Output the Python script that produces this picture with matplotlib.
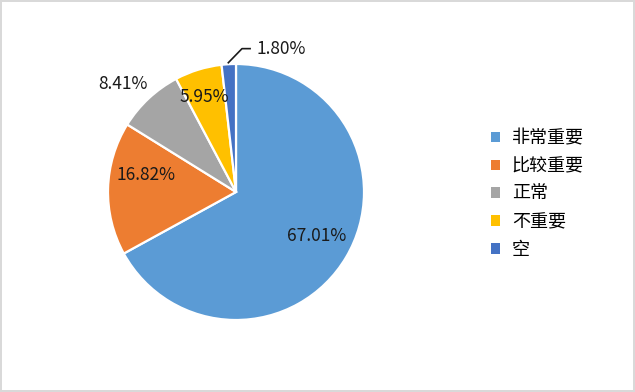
import matplotlib
matplotlib.use('Agg')
import matplotlib.pyplot as plt

# data
categories = ['非常重要', '比较重要', '正常', '不重要', '空']
shares = [67.01, 16.82, 8.41, 5.95, 1.80]
colors = ['#5B9BD5', '#ED7D31', '#A5A5A5', '#FFC000', '#4472C4']

plt.rcParams['font.family'] = ['Noto Sans CJK SC', 'DejaVu Sans']

fig = plt.figure(figsize=(6.35, 3.92), dpi=100)
fig.patch.set_edgecolor('#D9D9D9')
fig.patch.set_linewidth(1.5)

# square axes so the pie has radius 1 in data units
ax = fig.add_axes([108 / 635, 72 / 392, 256 / 635, 256 / 392])
wedges, _ = ax.pie(shares, colors=colors, startangle=90, counterclock=False,
                   radius=1, wedgeprops=dict(edgecolor='white', linewidth=1.6))
ax.set_xlim(-1, 1)
ax.set_ylim(-1, 1)
ax.set_aspect('equal')
ax.axis('off')

# label positions (data coords), Excel puts the small ones outside
label_pos = [(0.63, -0.34), (-0.70, 0.13), (-0.88, 0.84), (-0.25, 0.74), (0.16, 1.12)]
for pct, (x, y) in zip(shares, label_pos):
    ha = 'left' if pct < 2 else 'center'
    ax.text(x, y, '%.2f%%' % pct, ha=ha, va='center', fontsize=12.5,
            color='#1a1a1a', clip_on=False)

# leader line for the tiny slice
ax.plot([-0.06, 0.047, 0.11], [1.01, 1.12, 1.12], color='#1a1a1a',
        linewidth=1.2, clip_on=False)

leg = fig.legend(wedges, categories, loc='center left',
                 bbox_to_anchor=(491 / 635, 1 - 194 / 392), frameon=False,
                 fontsize=13, handlelength=0.5, handleheight=0.5,
                 handletextpad=0.65, labelspacing=0.55, borderaxespad=0,
                 borderpad=0)
for h in leg.legend_handles:
    h.set_edgecolor('none')

fig.savefig('out.png', dpi=100, edgecolor=fig.get_edgecolor())
